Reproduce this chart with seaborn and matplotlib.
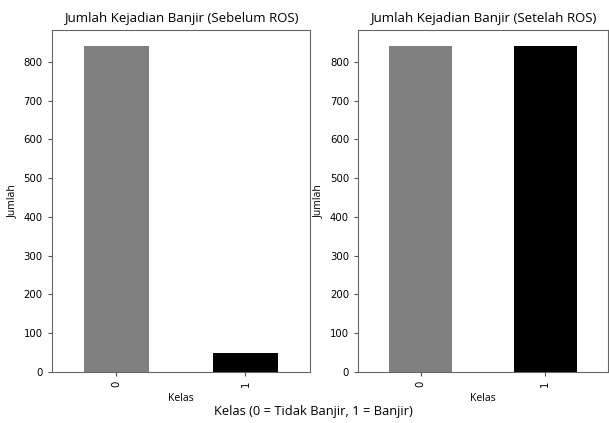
import matplotlib
matplotlib.use("Agg")
import matplotlib.pyplot as plt
import seaborn as sns
import pandas as pd

kelas = ["0", "1"]
sebelum = [840, 49]
setelah = [840, 840]
colors = ["gray", "black"]
titles = ["Jumlah Kejadian Banjir (Sebelum ROS)", "Jumlah Kejadian Banjir (Setelah ROS)"]

fig = plt.figure(figsize=(6.09, 4.23), dpi=100)
ax1 = fig.add_axes([0.085, 0.121, 0.424, 0.808])
ax2 = fig.add_axes([0.588, 0.121, 0.41, 0.808])

for ax, vals, title in zip([ax1, ax2], [sebelum, setelah], titles):
    df = pd.DataFrame({"Kelas": kelas, "Jumlah": vals})
    sns.barplot(data=df, x="Kelas", y="Jumlah", hue="Kelas", palette=colors,
                width=0.5, legend=False, ax=ax, saturation=1)
    ax.set_xlim(-0.5, 1.5)
    ax.set_ylim(0, 882)
    ax.set_yticks(range(0, 900, 100))
    ax.set_title(title, fontsize=9.5, family="Open Sans")
    ax.set_xlabel("Kelas", fontsize=7.5, family="Open Sans")
    ax.set_ylabel("Jumlah", fontsize=7.5, family="Open Sans")
    ax.tick_params(axis="both", labelsize=7.3, length=3, color="#555555")
    ax.tick_params(axis="x", labelrotation=90)
    for s in ax.spines.values():
        s.set_color("#666666")
        s.set_linewidth(0.8)

fig.text(0.514, 0.018, "Kelas (0 = Tidak Banjir, 1 = Banjir)", ha="center",
         fontsize=9.3, family="Open Sans")
fig.savefig("out.png", dpi=100)
